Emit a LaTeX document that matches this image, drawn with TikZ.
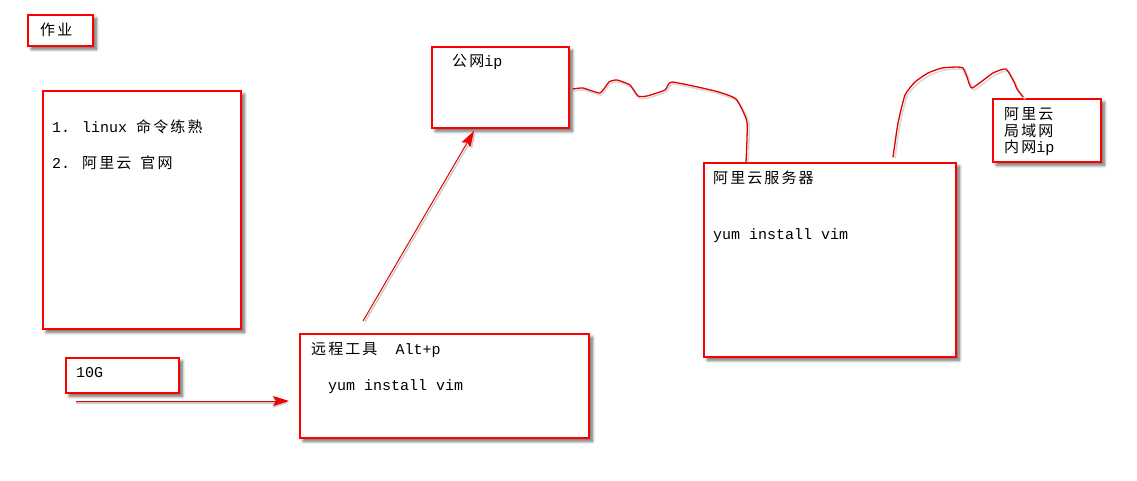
\documentclass[tikz,border=0pt]{standalone}
\usepackage{fontspec}
\setmainfont{Liberation Mono}
\newfontfamily\cjk{Noto Sans CJK SC}[Scale=1.0, LetterSpace=14]
\usetikzlibrary{shadows.blur,arrows.meta}
\tikzset{
  notebox/.style={draw=red, line width=1.5pt, fill=white, anchor=north west, inner sep=0pt,
    blur shadow={shadow xshift=3.5pt, shadow yshift=-3.5pt, shadow blur steps=8, shadow blur radius=3pt, shadow opacity=60}},
  label/.style={anchor=west, inner sep=0pt, font=\fontsize{15}{18}\selectfont},
  redarrow/.style={draw=red!90!black, line width=1pt, -{Stealth[length=16pt,width=10pt,inset=3pt,fill=red]}},
  arrowshadow/.style={draw=gray!40, line width=1.4pt, -{Stealth[length=16pt,width=10pt,inset=3pt,fill=gray!40]}},
  wavy/.style={draw=red!90!black, line width=1.3pt, line join=round, line cap=round},
  wavyshadow/.style={draw=gray!30, line width=1.6pt, line join=round}
}
\begin{document}
\begin{tikzpicture}[x=1pt,y=-1pt]
\useasboundingbox (0,0) rectangle (1137,480);
% boxes
\node[notebox, minimum width=65pt, minimum height=31pt] (zy) at (27,14) {};
\node[notebox, minimum width=198pt, minimum height=238pt] (list) at (42,90) {};
\node[notebox, minimum width=137pt, minimum height=81pt] (gw) at (431,46) {};
\node[notebox, minimum width=252pt, minimum height=194pt] (srv) at (703,162) {};
\node[notebox, minimum width=108pt, minimum height=63pt] (lan) at (992,98) {};
\node[notebox, minimum width=113pt, minimum height=35pt] (tg) at (65,357) {};
\node[notebox, minimum width=289pt, minimum height=104pt] (rt) at (299,333) {};
% texts
\node[label] (zyt) at (40,30) {\cjk 作业};
\node[label] (l1) at (52,127) {1. linux {\cjk 命令练熟}};
\node[label] (l2) at (52,163) {2. {\cjk 阿里云} {\cjk 官网}};
\node[label] (gwt) at (452,62) {{\cjk 公网}ip};
\node[label] (srvt) at (713,178) {\cjk 阿里云服务器};
\node[label] (srvc) at (713,236) {yum install vim};
\node[label] (lan1) at (1004,114) {\cjk 阿里云};
\node[label] (lan2) at (1004,131) {\cjk 局域网};
\node[label] (lan3) at (1004,148) {{\cjk 内网}ip};
\node[label] (tgt) at (76,373) {10G};
\node[label] (rtt) at (311,350) {{\cjk 远程工具}\ \ Alt+p};
\node[label] (rtc) at (328,387) {yum install vim};
% arrows
\coordinate (a1s) at (76,401);
\coordinate (a1e) at (289,401);
\draw[arrowshadow] ([yshift=-1.8pt]a1s) -- ([yshift=-1.8pt]a1e);
\draw[redarrow] (a1s) -- (a1e);
\coordinate (a2s) at (363,321);
\coordinate (a2e) at (474,131);
\draw[arrowshadow] ([xshift=1.8pt,yshift=-1.2pt]a2s) -- ([xshift=1.8pt,yshift=-1.2pt]a2e);
\draw[redarrow] (a2s) -- (a2e);
% wavy lines
\coordinate (w1s) at (573,89);
\coordinate (w1e) at (746,162);
\draw[wavyshadow] plot[smooth, tension=0.3] coordinates {(574,91) (584,90) (601,95) (610,84) (618,82) (631,87) (639,98) (648,98) (666,92) (673,84) (716,93) (737,101) (749,123) (748,162)};
\draw[wavy] plot[smooth, tension=0.3] coordinates {(w1s) (583,88) (600,93) (609,82) (617,80) (630,85) (638,96) (647,96) (665,90) (672,82) (715,91) (736,99) (747,122) (w1e)};
\coordinate (w2s) at (893,157);
\coordinate (w2e) at (1023,97);
\draw[wavyshadow] plot[smooth, tension=0.3] coordinates {(895,158) (900,124) (907,96) (917,84) (930,75) (944,70) (959,69) (965,70) (969,79) (974,90) (995,75) (1008,71) (1016,84) (1019,91) (1025,99)};
\draw[wavy] plot[smooth, tension=0.3] coordinates {(w2s) (898,123) (905,95) (915,82) (928,73) (942,68) (957,67) (963,68) (967,77) (972,88) (993,73) (1006,69) (1014,82) (1017,89) (w2e)};
\end{tikzpicture}
\end{document}
